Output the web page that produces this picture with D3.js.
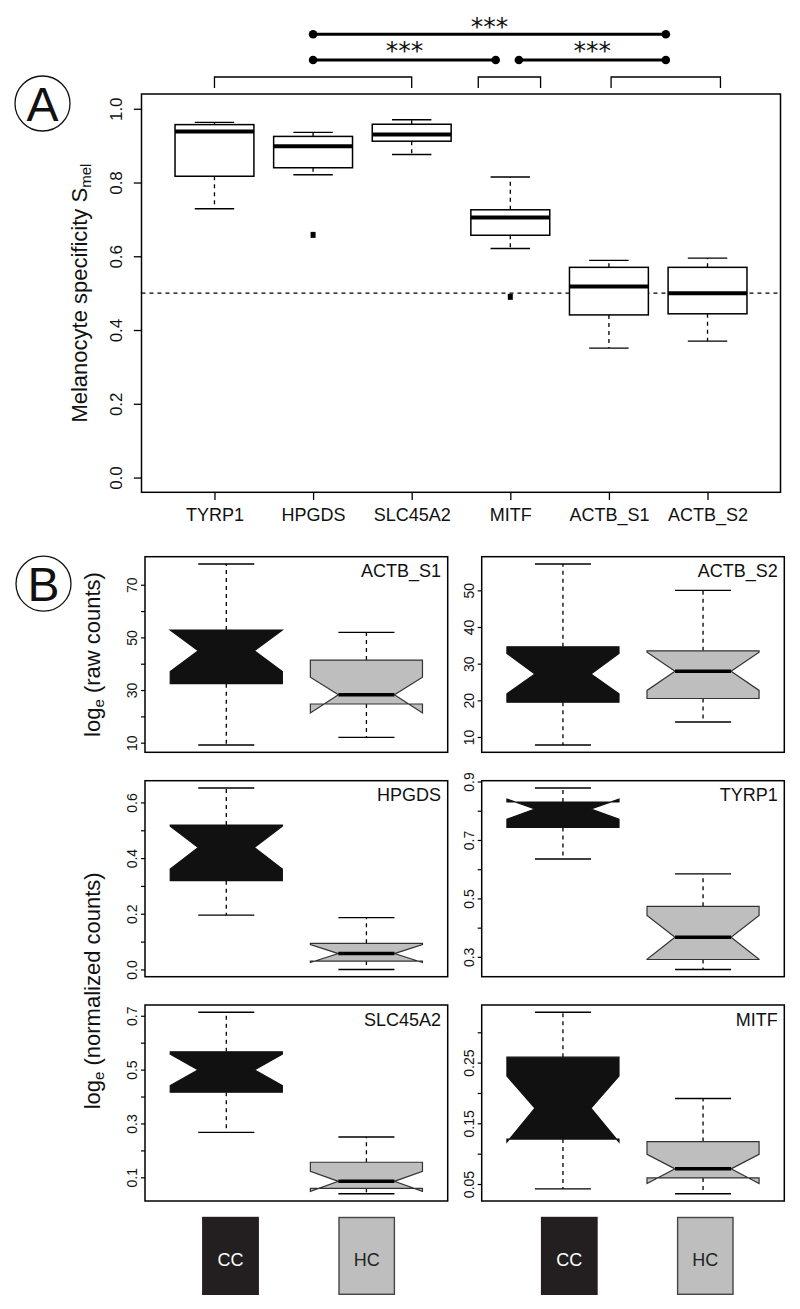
<!DOCTYPE html>
<html><head><meta charset="utf-8">
<script src="https://cdn.jsdelivr.net/npm/d3@7"></script>
<style>body{margin:0;background:#fff}svg{display:block}text{font-family:"Liberation Sans",Arial,Helvetica,sans-serif}</style>
</head><body><svg id="c" width="800" height="1309"></svg>
<script>
// ---------- Panel A data ----------
const genesA = ["TYRP1","HPGDS","SLC45A2","MITF","ACTB_S1","ACTB_S2"];
const aWhiskerLo = [0.729,0.821,0.876,0.621,0.351,0.370];
const aQ1        = [0.817,0.840,0.912,0.657,0.441,0.444];
const aMedian    = [0.938,0.898,0.930,0.705,0.518,0.500];
const aQ3        = [0.957,0.925,0.958,0.726,0.570,0.570];
const aWhiskerHi = [0.963,0.936,0.970,0.815,0.589,0.595];
const aOutliers  = [[],[0.658],[],[0.490],[],[]];
const aTicks = [0,0.2,0.4,0.6,0.8,1.0];
const aTickLabels = ["0.0","0.2","0.4","0.6","0.8","1.0"];
const aRefLine = 0.5;
const aYLim = [0,1];
// significance brackets and links (category-position units)
const brackets = [[1,3],[3.675,4.307],[5.022,6.131]];
const sigLinks = [[2.0,5.577],[2.0,3.852],[4.087,5.577]];
const sigLevels = [0,1,1];
const sigLabels = ["***","***","***"];

// ---------- Panel B data ----------
const groupsB = ["CC","HC"];
const panelsB = ["ACTB_S1","ACTB_S2","HPGDS","TYRP1","SLC45A2","MITF"];
const bWhiskerLo = [[9.1,12.0],[7.8,14.1],[0.195,0.000],[0.635,0.257],[0.267,0.039],[0.042,0.034]];
const bQ1        = [[32.4,24.7],[19.5,20.5],[0.319,0.030],[0.743,0.291],[0.416,0.059],[0.124,0.060]];
const bNotchLo   = [[37.0,21.3],[21.8,22.7],[0.361,0.025],[0.771,0.292],[0.441,0.048],[0.119,0.051]];
const bMedian    = [[44.9,28.2],[27.2,27.9],[0.438,0.057],[0.806,0.367],[0.499,0.085],[0.175,0.075]];
const bNotchHi   = [[52.8,34.9],[32.8,33.1],[0.515,0.089],[0.840,0.442],[0.557,0.122],[0.228,0.099]];
const bQ3        = [[52.8,41.4],[34.6,33.5],[0.519,0.094],[0.830,0.473],[0.566,0.156],[0.259,0.120]];
const bWhiskerHi = [[77.9,51.9],[57.2,50.0],[0.652,0.186],[0.878,0.584],[0.713,0.250],[0.333,0.191]];
const bTicks = [
  [10,20,30,40,50,60,70],
  [10,20,30,40,50],
  [0,0.1,0.2,0.3,0.4,0.5,0.6],
  [0.3,0.4,0.5,0.6,0.7,0.8,0.9],
  [0.1,0.2,0.3,0.4,0.5,0.6,0.7],
  [0.05,0.10,0.15,0.20,0.25,0.30]
];
const bTickLabelVals = [
  [10,30,50,70],[10,20,30,40,50],[0,0.2,0.4,0.6],[0.3,0.5,0.7,0.9],[0.1,0.3,0.5,0.7],[0.05,0.15,0.25]
];
const bTickDigits = [0,0,1,1,1,2];
const bYTitles = ["raw counts","normalized counts"];

// ---------- colours ----------
const colCC = "#111111", colHC = "#bebebe";
const legendFill = ["#231f20","#bebebe"];
const legendText = ["#ffffff","#222222"];

const svg = d3.select("#c");

// ================= PANEL A =================
const A = {l:141.5, r:780.5, t:94, b:492.3};
const extA = (aYLim[1]-aYLim[0])*0.04;
const xA = d3.scaleLinear().domain([0.5-0.24, genesA.length+0.5+0.24]).range([A.l, A.r]);
const yA = d3.scaleLinear().domain([aYLim[0]-extA, aYLim[1]+extA]).range([A.b, A.t]);
const gA = svg.append("g");
const hwA = (xA(0.4)-xA(0));

// reference line
gA.append("line").attr("x1",A.l).attr("x2",A.r).attr("y1",yA(aRefLine)).attr("y2",yA(aRefLine))
  .attr("stroke","#000").attr("stroke-width",1.2).attr("stroke-dasharray","4,4");

genesA.forEach((g,i)=>{
  const c = xA(i+1);
  const grp = gA.append("g");
  [[aQ3[i],aWhiskerHi[i]],[aQ1[i],aWhiskerLo[i]]].forEach(([a,b])=>{
    grp.append("line").attr("x1",c).attr("x2",c).attr("y1",yA(a)).attr("y2",yA(b))
      .attr("stroke","#000").attr("stroke-width",1.3).attr("stroke-dasharray","4,4");
    grp.append("line").attr("x1",c-hwA/2).attr("x2",c+hwA/2).attr("y1",yA(b)).attr("y2",yA(b))
      .attr("stroke","#000").attr("stroke-width",1.4);
  });
  grp.append("rect").attr("x",c-hwA).attr("width",2*hwA)
    .attr("y",yA(aQ3[i])).attr("height",yA(aQ1[i])-yA(aQ3[i]))
    .attr("fill","#fff").attr("stroke","#000").attr("stroke-width",1.5);
  grp.append("line").attr("x1",c-hwA).attr("x2",c+hwA).attr("y1",yA(aMedian[i])).attr("y2",yA(aMedian[i]))
    .attr("stroke","#000").attr("stroke-width",4);
  aOutliers[i].forEach(o=>{
    grp.append("rect").attr("x",c-2.5).attr("y",yA(o)-3).attr("width",5).attr("height",6).attr("fill","#000");
  });
});

// axes A
const axLA = gA.append("g").attr("transform",`translate(${A.l},0)`)
  .call(d3.axisLeft(yA).tickValues(aTicks).tickSize(7.7).tickSizeOuter(0).tickFormat((d,i)=>aTickLabels[i]));
axLA.select(".domain").remove();
axLA.attr("font-family",null);
axLA.selectAll("line").attr("stroke-width",1.3);
axLA.selectAll("text").attr("font-size",17).attr("x",0).attr("y",-19.5).attr("dy",0)
  .attr("text-anchor","middle").attr("transform","rotate(-90)").attr("fill","#111")
  .style("font-family",'"Liberation Sans",Arial,sans-serif');
const axBA = gA.append("g").attr("transform",`translate(0,${A.b})`)
  .call(d3.axisBottom(xA).tickValues(d3.range(1,genesA.length+1)).tickSize(7.7).tickSizeOuter(0).tickFormat((d,i)=>genesA[i]));
axBA.select(".domain").remove();
axBA.attr("font-family",null);
axBA.selectAll("line").attr("stroke-width",1.3);
axBA.selectAll("text").attr("font-size",18).attr("y",28.4).attr("dy",0).attr("fill","#111")
  .style("font-family",'"Liberation Sans",Arial,sans-serif');

gA.append("rect").attr("x",A.l).attr("y",A.t).attr("width",A.r-A.l).attr("height",A.b-A.t)
  .attr("fill","none").attr("stroke","#000").attr("stroke-width",1.5);

// y title A
const tA = gA.append("text").attr("transform",`translate(87.3,${(A.t+A.b)/2}) rotate(-90)`)
  .attr("text-anchor","middle").attr("font-size",22).attr("fill","#111");
tA.append("tspan").text("Melanocyte specificity S");
tA.append("tspan").attr("font-size",15).attr("dy",4).text("mel");

// brackets
const brTop = 77, brBot = 88;
brackets.forEach(([a,b])=>{
  gA.append("path").attr("d",`M${xA(a)},${brBot}V${brTop}H${xA(b)}V${brBot}`)
    .attr("fill","none").attr("stroke","#000").attr("stroke-width",1.3);
});
const levelY = [34.3, 60];
const starBase = [34.5, 58.5];
sigLinks.forEach(([a,b],i)=>{
  const y = levelY[sigLevels[i]];
  gA.append("line").attr("x1",xA(a)).attr("x2",xA(b)).attr("y1",y).attr("y2",y)
    .attr("stroke","#000").attr("stroke-width",3);
  [a,b].forEach(v=>gA.append("circle").attr("cx",xA(v)).attr("cy",y).attr("r",4.3).attr("fill","#000"));
  gA.append("text").attr("x",xA((a+b)/2)).attr("y",starBase[sigLevels[i]]).attr("text-anchor","middle")
    .attr("font-size",25).style("font-family","'DejaVu Sans',sans-serif").attr("fill","#111").text(sigLabels[i]);
});

// circled letters
function circLetter(cx,cy,l){
  svg.append("circle").attr("cx",cx).attr("cy",cy).attr("r",27.5).attr("fill","none").attr("stroke","#111").attr("stroke-width",1.3);
  svg.append("text").attr("x",cx).attr("y",cy+17).attr("text-anchor","middle").attr("font-size",48).attr("fill","#111").text(l);
}
circLetter(42.5,103.5,"A");
circLetter(43.5,583.7,"B");

// ================= PANEL B =================
const colsX = [[145,447.7],[481.7,784.3]];
const rowsY = [[556.7,752.3],[780.7,976.7],[1005,1201]];

panelsB.forEach((name,p)=>{
  const [l,r] = colsX[p%2];
  const [t,b] = rowsY[Math.floor(p/2)];
  const lo = d3.min([...bWhiskerLo[p],...bNotchLo[p]]);
  const hi = d3.max([...bWhiskerHi[p],...bNotchHi[p]]);
  const ext = (hi-lo)*0.04;
  const y = d3.scaleLinear().domain([lo-ext,hi+ext]).range([b,t]);
  const x = d3.scaleLinear().domain([0.5-0.08, groupsB.length+0.5+0.08]).range([l,r]);
  const hw = x(0.4)-x(0);
  const g = svg.append("g");
  groupsB.forEach((grpName,k)=>{
    const c = x(k+1);
    [[bQ3[p][k],bWhiskerHi[p][k]],[bQ1[p][k],bWhiskerLo[p][k]]].forEach(([a,bb])=>{
      g.append("line").attr("x1",c).attr("x2",c).attr("y1",y(a)).attr("y2",y(bb))
        .attr("stroke","#000").attr("stroke-width",1.3).attr("stroke-dasharray","4,4");
      g.append("line").attr("x1",c-hw/2).attr("x2",c+hw/2).attr("y1",y(bb)).attr("y2",y(bb))
        .attr("stroke","#000").attr("stroke-width",1.4);
    });
    const xl=c-hw, xr=c+hw, ml=c-hw/2, mr=c+hw/2;
    const pts = [[xl,bQ1[p][k]],[xl,bNotchLo[p][k]],[ml,bMedian[p][k]],[xl,bNotchHi[p][k]],[xl,bQ3[p][k]],
                 [xr,bQ3[p][k]],[xr,bNotchHi[p][k]],[mr,bMedian[p][k]],[xr,bNotchLo[p][k]],[xr,bQ1[p][k]]];
    g.append("path").attr("d","M"+pts.map(q=>q[0]+","+y(q[1])).join("L")+"Z")
      .attr("fill",k===0?colCC:colHC).attr("stroke",k===0?colCC:"#333").attr("stroke-width",1.2)
      .attr("stroke-linejoin","miter");
    g.append("line").attr("x1",ml).attr("x2",mr).attr("y1",y(bMedian[p][k])).attr("y2",y(bMedian[p][k]))
      .attr("stroke",k===0?colCC:"#000").attr("stroke-width",3.5);
  });
  const ax = g.append("g").attr("transform",`translate(${l},0)`)
    .call(d3.axisLeft(y).tickValues(bTicks[p]).tickSize(4).tickSizeOuter(0)
      .tickFormat(d=>bTickLabelVals[p].some(v=>Math.abs(v-d)<1e-9)?d.toFixed(bTickDigits[p]):""));
  ax.select(".domain").remove();
  ax.attr("font-family",null);
  ax.selectAll("line").attr("stroke-width",1.2);
  ax.selectAll("text").attr("font-size",14).attr("x",0).attr("y",-8).attr("dy",0)
    .attr("text-anchor","middle").attr("transform","rotate(-90)").attr("fill","#111")
    .style("font-family",'"Liberation Sans",Arial,sans-serif');
  g.append("rect").attr("x",l).attr("y",t).attr("width",r-l).attr("height",b-t)
    .attr("fill","none").attr("stroke","#000").attr("stroke-width",1.5);
  g.append("text").attr("x",r-6.6).attr("y",t+20.6).attr("text-anchor","end").attr("font-size",18)
    .attr("fill","#111").text(name);
});

// B y titles
[[rowsY[0][0],rowsY[0][1]],[rowsY[1][0],rowsY[2][1]]].forEach(([t,b],i)=>{
  const tx = svg.append("text").attr("transform",`translate(100,${(t+b)/2}) rotate(-90)`)
    .attr("text-anchor","middle").attr("font-size",22).attr("fill","#111");
  tx.append("tspan").text("log");
  tx.append("tspan").attr("font-size",15).attr("dy",4).text("e");
  tx.append("tspan").attr("dy",-4).text(" ("+bYTitles[i]+")");
});

// legend
const legendCenters = [230.5,366.7,569.3,705.3];
legendCenters.forEach((cx,i)=>{
  const k = i%2;
  svg.append("rect").attr("x",cx-27.7).attr("y",1217.5).attr("width",55.4).attr("height",76.8)
    .attr("fill",legendFill[k]).attr("stroke",k===0?"#231f20":"#444").attr("stroke-width",1.4);
  svg.append("text").attr("x",cx).attr("y",1265.5).attr("text-anchor","middle").attr("font-size",18)
    .attr("fill",legendText[k]).text(groupsB[k]);
});
</script></body></html>
